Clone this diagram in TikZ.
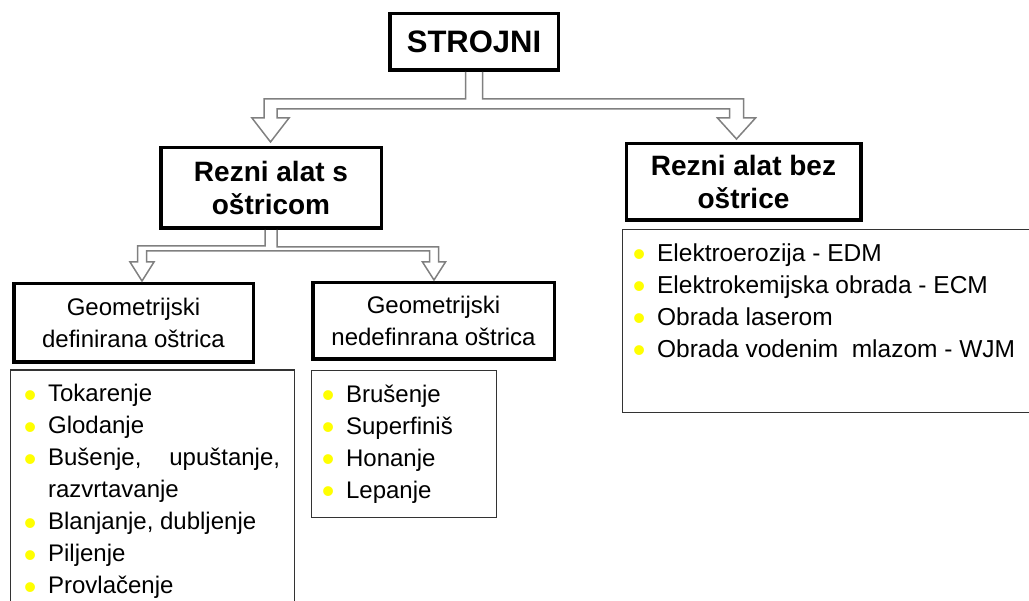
\documentclass[tikz,border=0pt]{standalone}
\usepackage{fontspec}
\setmainfont{Liberation Sans}
\usetikzlibrary{positioning, calc}
\usepackage{xcolor}
\definecolor{bulletyellow}{RGB}{255,255,0}
\definecolor{forkgray}{RGB}{128,128,128}
\tikzset{headbox/.style={draw, line width=3.5pt, align=center, inner sep=0pt},
         listbox/.style={draw=black!80, line width=1.2pt, inner sep=0pt},
         listtext/.style={anchor=north west, inner sep=0pt, align=justify},
         forkline/.style={draw=forkgray, line width=1.5pt, line join=miter}}
\newcommand{\bitem}{\par\hangindent=36pt\hangafter=1\noindent
  \makebox[36pt][c]{\raisebox{-5.5pt}[0pt][0pt]{\textcolor{bulletyellow}{\fontsize{36}{32}\selectfont\textbullet}}}\strut}
\hyphenpenalty=10000
\tolerance=9999

\begin{document}
\begin{tikzpicture}[x=1pt, y=-1pt]
        \useasboundingbox (0,0) rectangle (1029,601);
        % boxes
        \node[headbox, minimum width=168.5, minimum height=56.5,
              font=\fontsize{31}{36}\selectfont\bfseries] (strojni) at (474,42) {STROJNI};
        \node[headbox, minimum width=220.5, minimum height=80.5,
              font=\fontsize{28}{33}\selectfont\bfseries] (sostricom) at (271,188) {Rezni alat s\\oštricom};
        \node[headbox, minimum width=234.5, minimum height=76.5,
              font=\fontsize{28}{33}\selectfont\bfseries] (bezostrice) at (743.5,182) {Rezni alat bez\\oštrice};
        \node[headbox, minimum width=239.5, minimum height=78.5,
              font=\fontsize{24}{32}\selectfont] (geodef) at (133.5,323) {Geometrijski\\definirana oštrica};
        \node[headbox, minimum width=241.5, minimum height=76.5,
              font=\fontsize{24}{32}\selectfont] (geonedef) at (433.5,321) {Geometrijski\\nedefinrana oštrica};
        % lists
        \node[listbox, minimum width=284, minimum height=270] (listdef) at (152.5,505) {};
        \node[listbox, minimum width=185, minimum height=147] (listnedef) at (404,444) {};
        \node[listbox, minimum width=422, minimum height=183] (listbez) at (833.5,321) {};
        \node[listtext, text width=268, font=\fontsize{24}{32}\selectfont] (itemsdef)
              at ($(listdef.north west)+(2,0)$)
              {\bitem Tokarenje \bitem Glodanje \bitem Bušenje, upuštanje, razvrtavanje
               \bitem Blanjanje, dubljenje \bitem Piljenje \bitem Provlačenje};
        \node[listtext, text width=180, font=\fontsize{24}{32}\selectfont] (itemsnedef)
              at ($(listnedef.north west)+(-1,0)$)
              {\bitem Brušenje \bitem Superfiniš \bitem Honanje \bitem Lepanje};
        \node[listtext, text width=400, font=\fontsize{24.5}{32}\selectfont] (itemsbez)
              at ($(listbez.north west)+(-1,0)$)
              {\bitem Elektroerozija - EDM \bitem Elektrokemijska obrada - ECM
               \bitem Obrada laserom \bitem Obrada vodenim~~mlazom - WJM};
        % arrow tips
        \coordinate (tipS) at ($(sostricom.north)+(-0.5,-4)$);
        \coordinate (tipB) at ($(bezostrice.north)+(-7,-3)$);
        \coordinate (tipD) at ($(geodef.north)+(8.5,-1)$);
        \coordinate (tipN) at ($(geonedef.north)+(0.5,-1)$);
        % forked arrows
        \draw[forkline] ($(strojni.south)+(-8.5,0)$) |- ($(tipS)+(-6.5,-43)$)
              -- ($(tipS)+(-6.5,-24)$) -- ($(tipS)+(-18.5,-24)$) -- (tipS)
              -- ($(tipS)+(18.5,-24)$) -- ($(tipS)+(6.5,-24)$) |- ($(tipB)+(-7,-30)$)
              -- ($(tipB)+(-7,-21)$) -- ($(tipB)+(-19,-21)$) -- (tipB)
              -- ($(tipB)+(19,-21)$) -- ($(tipB)+(7,-21)$) |- ($(strojni.south)+(8.5,27)$)
              -- ($(strojni.south)+(8.5,0)$);
        \draw[forkline] ($(sostricom.south)+(-6,0)$) |- ($(tipD)+(-4.5,-35)$)
              -- ($(tipD)+(-4.5,-19)$) -- ($(tipD)+(-12,-19)$) -- (tipD)
              -- ($(tipD)+(12,-19)$) -- ($(tipD)+(4.5,-19)$) |- ($(tipN)+(-4.5,-29)$)
              -- ($(tipN)+(-4.5,-18)$) -- ($(tipN)+(-11.5,-18)$) -- (tipN)
              -- ($(tipN)+(11.5,-18)$) -- ($(tipN)+(4.5,-18)$) |- ($(sostricom.south)+(6,17)$)
              -- ($(sostricom.south)+(6,0)$);
\end{tikzpicture}
\end{document}
